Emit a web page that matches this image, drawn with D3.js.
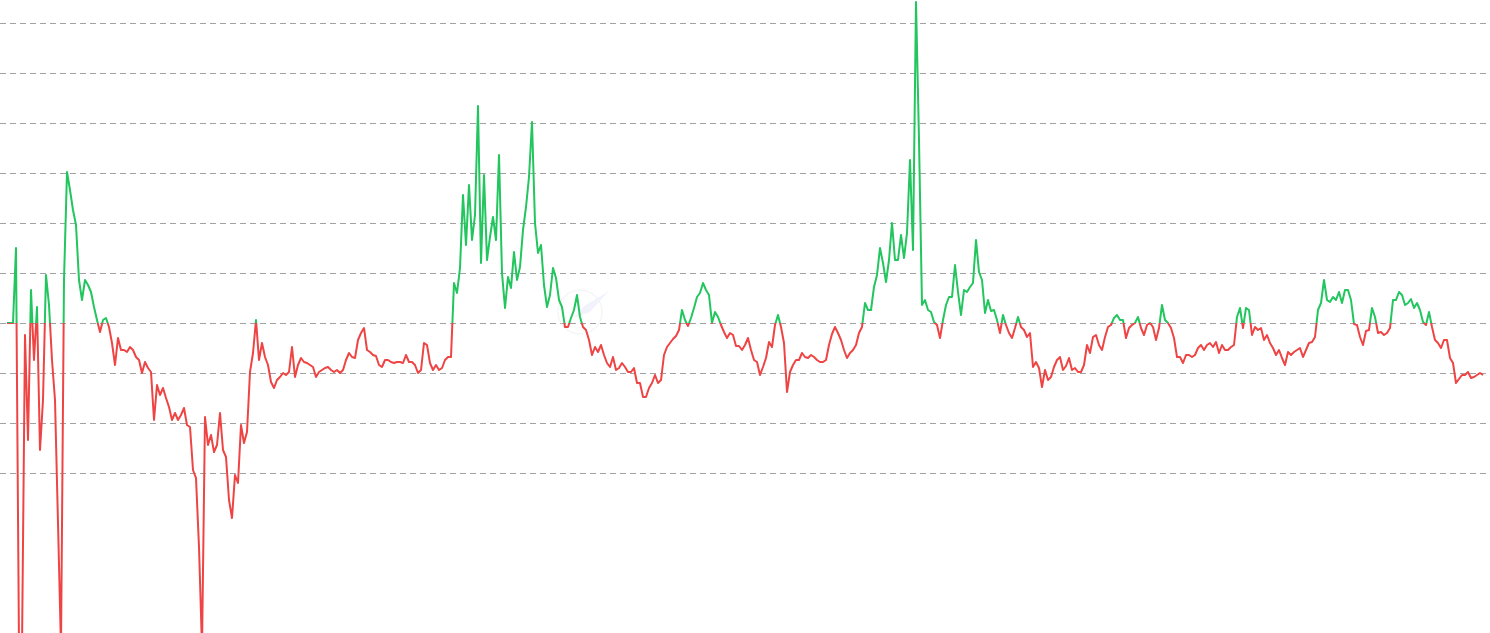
<!DOCTYPE html>
<html>
<head>
<meta charset="utf-8">
<script src="https://cdn.jsdelivr.net/npm/d3@7"></script>
<style>
  html, body { margin: 0; padding: 0; background: #ffffff; overflow: hidden; }
  svg { display: block; }
</style>
</head>
<body>
<svg id="chart" width="1490" height="633"></svg>
<script>
// Series values relative to the baseline (0), evenly spaced in time
const values = [
  0,0,0,15,-65,-65,-2.4,-23.4,6.6,-7.4,
  3.2,-25.4,-15.4,9.6,3.6,-7.4,-15.4,-40,-65,8.6,
  30.2,26.6,22.6,19.6,8.6,4.6,8.6,7.6,6.2,3.2,
  0.6,-1.8,0.6,1,-0.8,-4,-8.4,-3,-5.4,-5.4,
  -5.8,-4.8,-5.4,-6.8,-7.4,-10,-7.8,-9,-9.8,-19.4,
  -12.4,-14.4,-13,-15,-16.8,-19.4,-18,-19.4,-18.4,-17,
  -20.4,-20.8,-29.4,-31,-44.8,-65,-18.8,-24.4,-22.4,-25.8,
  -24.4,-18,-25.4,-26.8,-35.4,-39,-30.4,-32,-20.4,-24,
  -21.8,-9.8,-6,0.6,-7.4,-4,-6.8,-8.4,-11.8,-13,
  -11.4,-10.8,-10,-10.4,-9.8,-4.8,-10.8,-8.4,-7,-7.8,
  -8,-8.4,-8.8,-10.8,-9.8,-9.4,-9,-8.8,-9.4,-9.8,
  -9.4,-10,-9.4,-7.4,-6,-6.8,-7,-3.4,-2,-1,
  -5.4,-5.8,-6.4,-6.6,-8.4,-8.8,-7.4,-7.4,-7.8,-8,
  -7.8,-7.8,-8,-6.4,-7.8,-7.8,-8.4,-10,-9.4,-4,
  -4.4,-8,-9.4,-8.4,-9.4,-9,-7.4,-6.8,-6.8,8,
  6,11,25.6,15.6,27.6,16.6,21.6,43.4,12,29.6,
  12.6,17.2,21.2,16.6,33.6,10,3,9.2,7,14.2,
  8.6,11.2,18.6,23.2,29.2,40.2,20,14,15.6,7.6,
  3.2,5.6,11,9,4.6,3.2,-0.8,-0.8,1,2.6,
  5.6,1.2,-0.8,-1.4,-3.4,-6.4,-4.8,-5.8,-4.4,-6.4,
  -8,-8.8,-6.8,-9.4,-9,-8,-8.8,-9.8,-9.8,-9,
  -12,-12,-14.8,-14.8,-13,-12,-10.4,-12,-11.4,-6.4,
  -4.8,-4,-3.2,-2.6,-1.4,2.6,0.6,-0.6,1,3,
  5.2,6,8,6.6,5.6,0,2.2,1.2,-0.4,-1.8,
  -3,-2,-2.4,-4.6,-4.6,-5.4,-4.4,-3,-5.4,-7.4,
  -7.8,-10.4,-8.8,-7,-3.8,-4.8,-0.4,1.6,-0.8,-4,
  -13.8,-9.8,-8.4,-7.4,-7.4,-6,-6.8,-7,-6.4,-6.8,
  -7.4,-7.8,-7.8,-7.4,-4.4,-2.2,-0.8,-2,-3.4,-5.4,
  -7,-6,-5.4,-4.4,-2,-0.8,4,2.6,2.6,7.2,
  9.6,15,12,8.2,12.6,20,12.6,12.6,17.6,13,
  18,32.6,14.6,64.2,36.6,3.6,4.6,2.6,2.2,0.2,
  -0.4,-3,0.6,3.6,5.2,5.2,11.6,6.2,1.6,6.6,
  6.2,7.2,8,16.6,10.2,8.6,2,4.6,2.4,2.6,
  0.6,-2,1.6,-0.4,-2,-3,-1,1.2,-0.8,-1.4,
  -2.8,-2,-8.8,-7.8,-9,-12.8,-9.4,-11.4,-10.8,-8.8,
  -7.4,-6.8,-9.4,-8.6,-7,-9.4,-9,-9.8,-9.8,-8.4,
  -4.4,-6,-2.8,-2.4,-4.4,-5.4,-2.8,-0.8,-0.4,1,
  1.6,0.6,0.6,-3,-1,-0.4,0,1.2,-1,-2.4,
  -0.4,0,-0.8,-3.4,-1,3.6,0.6,0,-1,-3,
  -6.8,-6.8,-8,-6.4,-6.4,-6.8,-6.4,-5,-4.4,-5.4,
  -4.4,-4,-4.8,-3.8,-6,-4.4,-5.4,-5.4,-4.8,-4.4,
  1.2,3,-1,3,2.6,-2.4,-0.8,-1.4,-1,-3.4,
  -2.4,-4,-5,-6.4,-5.4,-7,-8.4,-5.8,-6.4,-5.8,
  -5.4,-5,-6.8,-5.4,-4,-3.8,-2.8,2.6,4,8.6,
  4.6,4.2,5.2,4.6,6.2,4,6.6,6.6,4.6,-0.2,
  -0.4,-2.8,-4.4,-1.6,-1.4,3,1.2,-2,-1.8,-2.4,
  -2,-1,4.6,4.6,6.2,5.6,3.6,4,4.8,3,
  4,2.6,0.2,-0.4,2.2,-0.8,-3.4,-4,-5,-3.4,
  -3.4,-7,-8,-12,-11.2,-10.4,-10.4,-9.8,-11,-10.8,
  -10.4,-10,-10.4
];
const baselineValue = 0;
const gridValues = [-30, -20, -10, 0, 10, 20, 30, 40, 50, 60];
const yDomain = [-62, 64.6];

const W = 1490, H = 633;
const svg = d3.select("#chart");

const x = d3.scaleLinear().domain([0, values.length - 1]).range([7, 1483]);
const y = d3.scaleLinear().domain(yDomain).range([H, 0]);

// grid
svg.append("g")
  .selectAll("line")
  .data(gridValues)
  .join("line")
  .attr("x1", 0).attr("x2", 1486)
  .attr("y1", d => Math.round(y(d)) + 0.5)
  .attr("y2", d => Math.round(y(d)) + 0.5)
  .attr("stroke", "#a3a3a3")
  .attr("stroke-width", 1)
  .attr("stroke-dasharray", "6,4");

// faint watermark logo
const wm = svg.append("g").attr("opacity", 0.55);
wm.append("circle").attr("cx", 580).attr("cy", 312).attr("r", 22)
  .attr("fill", "none").attr("stroke", "#eeeef2").attr("stroke-width", 1.5);
wm.append("path").attr("d", "M574,318 L584,306 L609,291 L590,312 Z")
  .attr("fill", "#e8e8fa");

const by = y(baselineValue);
const defs = svg.append("defs");
defs.append("clipPath").attr("id", "clipTop")
  .append("rect").attr("x", 0).attr("y", 0).attr("width", W).attr("height", by);
defs.append("clipPath").attr("id", "clipBottom")
  .append("rect").attr("x", 0).attr("y", by).attr("width", W).attr("height", H - by);

const line = d3.line()
  .x((d, i) => x(i))
  .y(d => y(d));

svg.append("path")
  .datum(values)
  .attr("clip-path", "url(#clipBottom)")
  .attr("fill", "none")
  .attr("stroke", "#ef4444")
  .attr("stroke-width", 2)
  .attr("stroke-linejoin", "round")
  .attr("d", line);

svg.append("path")
  .datum(values)
  .attr("clip-path", "url(#clipTop)")
  .attr("fill", "none")
  .attr("stroke", "#22c55e")
  .attr("stroke-width", 2)
  .attr("stroke-linejoin", "round")
  .attr("d", line);
</script>
</body>
</html>
